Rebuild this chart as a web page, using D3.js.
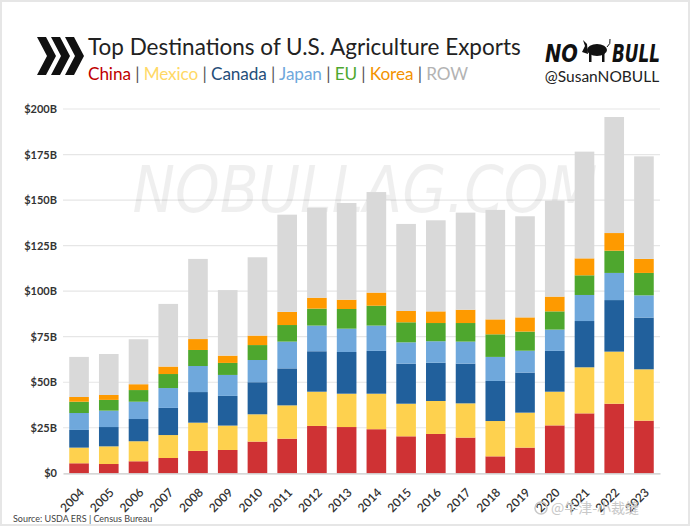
<!DOCTYPE html>
<html><head><meta charset="utf-8">
<script src="https://cdn.jsdelivr.net/npm/d3@7"></script>
<style>
html,body{margin:0;padding:0;background:#fff;}
svg{display:block;font-family:Lato,"Open Sans",sans-serif;}
</style></head>
<body>
<svg id="chart" width="690" height="526"></svg>
<script>
const years = ["2004","2005","2006","2007","2008","2009","2010","2011","2012","2013","2014","2015","2016","2017","2018","2019","2020","2021","2022","2023"];
const seriesNames = ["China","Mexico","Canada","Japan","EU","Korea","ROW"];
const china  = [5.5,5.1,6.6,8.4,12.3,12.8,17.4,19.0,26.0,25.4,24.2,20.3,21.6,19.6,9.3,14.1,26.3,32.9,38.2,28.9];
const mexico = [8.6,9.7,11.0,12.6,15.5,13.4,15.0,18.3,18.8,18.3,19.5,17.9,18.1,18.8,19.4,19.2,18.5,25.3,28.6,28.2];
const canada = [9.7,10.6,12.2,14.9,16.8,16.3,17.6,20.3,22.2,22.9,23.5,22.0,21.0,21.8,22.0,22.0,22.4,25.4,28.3,28.4];
const japan  = [9.3,9.0,9.5,10.9,14.3,11.5,12.2,14.7,14.1,12.8,13.9,11.7,11.8,12.1,13.2,12.0,11.7,14.3,14.9,12.2];
const eu     = [6.2,5.9,6.4,7.7,8.8,6.6,8.2,9.1,9.3,10.8,10.9,11.0,10.0,10.2,12.4,10.5,10.0,10.8,12.2,12.3];
const korea  = [2.6,2.7,3.2,4.1,6.0,4.0,5.2,7.2,6.0,5.1,7.2,6.2,6.4,7.3,8.2,7.8,8.1,9.3,9.7,7.7];
const row    = [22.0,22.5,24.7,34.4,44.0,36.0,43.0,53.4,49.4,53.1,55.2,47.8,50.0,53.3,60.1,55.5,52.7,58.6,63.7,56.3];
const yTicks = [0,25,50,75,100,125,150,175,200];
const yTickLabels = ["$0","$25B","$50B","$75B","$100B","$125B","$150B","$175B","$200B"];

const barColors = {China:"#cf3234",Mexico:"#fed14e",Canada:"#21609c",Japan:"#6fa8dc",EU:"#4ea72e",Korea:"#fe9a00",ROW:"#d9d9d9"};
const legendColors = {China:"#c00000",Mexico:"#ffd966",Canada:"#1f4e79",Japan:"#6fa8dc",EU:"#4ea72e",Korea:"#f39200",ROW:"#b3b3b3"};

const seriesValues = [china,mexico,canada,japan,eu,korea,row];
const table = years.map((y,i)=>{const o={year:y}; seriesNames.forEach((s,j)=>o[s]=seriesValues[j][i]); return o;});

const svg = d3.select("#chart");
svg.append("rect").attr("x",0.5).attr("y",0.5).attr("width",689).attr("height",525).attr("fill","#fff").attr("stroke","#e6e6e6").attr("stroke-width",3);

const x = d3.scaleBand().domain(years).range([63,660]).paddingInner(0.34).paddingOuter(0.21);
const y = d3.scaleLinear().domain([0,200]).range([473.3,109]);

// gridlines
svg.append("g").selectAll("line").data(yTicks.slice(1)).join("line")
  .attr("x1",63).attr("x2",660).attr("y1",d=>y(d)).attr("y2",d=>y(d))
  .attr("stroke","#e6e6e6").attr("stroke-width",1.2);

// watermark
svg.append("text").attr("x",365).attr("y",212).attr("text-anchor","middle")
  .attr("font-family","'DejaVu Sans',sans-serif").attr("font-style","italic")
  .attr("font-size",64).attr("fill","#000").attr("opacity",0.06)
  .attr("textLength",465).attr("lengthAdjust","spacingAndGlyphs")
  .text("NOBULLAG.COM");

// bars
const stack = d3.stack().keys(seriesNames)(table);
svg.append("g").selectAll("g").data(stack).join("g")
  .attr("fill",d=>barColors[d.key])
  .selectAll("rect").data(d=>d).join("rect")
  .attr("x",d=>x(d.data.year)).attr("width",x.bandwidth())
  .attr("y",d=>y(d[1])).attr("height",d=>y(d[0])-y(d[1]));

// y axis
const yAxis = d3.axisLeft(y).tickValues(yTicks).tickFormat((d,i)=>yTickLabels[i]).tickSize(0).tickPadding(6);
const gy = svg.append("g").attr("transform","translate(63,0)").call(yAxis);
gy.select(".domain").remove();
gy.selectAll("text").attr("font-family","Lato,sans-serif").attr("font-size",11).attr("font-weight","bold").attr("fill","#333");

// x axis
const xAxis = d3.axisBottom(x).tickSize(0);
const gx = svg.append("g").attr("transform","translate(0,473.3)").call(xAxis);
gx.select(".domain").attr("stroke","#c8c8c8").attr("stroke-width",1.2);
gx.selectAll("text").attr("font-family","Lato,sans-serif").attr("font-size",12).attr("font-weight","600").attr("fill","#333")
  .attr("text-anchor","end").attr("x",0).attr("y",0).attr("dy","0.35em").attr("transform","translate(3,17) rotate(-45)");

// chevrons
const chev = svg.append("g").attr("fill","#111");
[0,14,28].forEach(dx=>{
  chev.append("path").attr("d",`M${37+dx},37 L${46+dx},37 L${56+dx},56 L${46+dx},75 L${37+dx},75 L${47+dx},56 Z`);
});

// title
svg.append("text").attr("x",88).attr("y",55).attr("font-family","Lato,sans-serif").attr("font-size",22.5)
  .attr("fill","#222").text("Top Destinations of U.S. Agriculture Exports");

// legend subtitle
const sub = svg.append("text").attr("x",88).attr("y",80).attr("font-family","Lato,sans-serif").attr("font-size",17.2)
  .attr("textLength",380).attr("lengthAdjust","spacing");
seriesNames.forEach((s,i)=>{
  sub.append("tspan").attr("fill",legendColors[s]).text(s);
  if(i<seriesNames.length-1) sub.append("tspan").attr("fill","#555").text("\u00a0|\u00a0");
});

// logo
svg.append("text").attr("x",545).attr("y",62).attr("font-family","'DejaVu Sans',sans-serif")
  .attr("font-style","italic").attr("font-weight","bold").attr("font-size",24).attr("fill","#111")
  .attr("textLength",33).attr("lengthAdjust","spacingAndGlyphs").text("NO");
svg.append("text").attr("x",660).attr("y",62).attr("text-anchor","end").attr("font-family","'DejaVu Sans',sans-serif")
  .attr("font-style","italic").attr("font-weight","bold").attr("font-size",24).attr("fill","#111")
  .attr("textLength",48).attr("lengthAdjust","spacingAndGlyphs").text("BULL");
const bull = svg.append("g").attr("fill","#111");
bull.append("ellipse").attr("cx",597).attr("cy",50).attr("rx",10).attr("ry",6);
bull.append("path").attr("d","M587,44 L583,40 L585,46 L582,52 L588,54 Z");
bull.append("rect").attr("x",589).attr("y",53).attr("width",2.5).attr("height",9);
bull.append("rect").attr("x",602).attr("y",53).attr("width",2.5).attr("height",9);
bull.append("path").attr("d","M607,47 Q611,44 610,39").attr("stroke","#111").attr("stroke-width",1).attr("fill","none");

svg.append("text").attr("x",602).attr("y",82).attr("text-anchor","middle").attr("font-family","Lato,sans-serif")
  .attr("font-size",15.5).attr("fill","#222").text("@SusanNOBULL");

// source
svg.append("text").attr("x",13).attr("y",522).attr("font-family","Lato,sans-serif").attr("font-size",9)
  .attr("fill","#444").text("Source: USDA ERS | Census Bureau");

// weibo watermark
svg.append("circle").attr("cx",541).attr("cy",508).attr("r",6).attr("fill","none").attr("stroke","#c8c8c8").attr("stroke-width",1.5);
svg.append("text").attr("x",551).attr("y",513).attr("font-family","'Noto Sans CJK SC',sans-serif")
  .attr("font-size",14).attr("fill","#c8c8c8").text("@牛津-小裁缝");
</script>
</body></html>
